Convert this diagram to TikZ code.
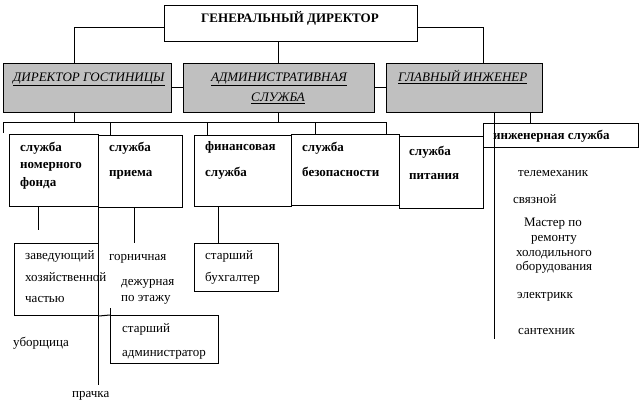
\documentclass[tikz,border=0pt]{standalone}
\usepackage{fontspec}
\setmainfont{Liberation Serif}
\definecolor{boxgray}{HTML}{C0C0C0}
\begin{document}
\begin{tikzpicture}[x=1pt,y=-1pt,
  box/.style={draw, line width=1pt, inner sep=0pt, anchor=north west, fill=white},
  gbox/.style={box, fill=boxgray},
  t/.style={inner sep=0pt, anchor=base west, font=\fontsize{13}{15}\selectfont},
  tc/.style={t, anchor=base},
  tb/.style={t, font=\fontsize{13}{15}\selectfont\bfseries},
  ti/.style={t, font=\fontsize{13}{15}\selectfont\itshape},
  ln/.style={line width=1pt}]
\useasboundingbox[fill=white] (0,0) rectangle (642,414);

% boxes
\node[box, minimum width=253pt, minimum height=36pt] (gd) at (164,5) {};
\node[gbox, minimum width=168pt, minimum height=49pt] (dg) at (3,63) {};
\node[gbox, minimum width=191pt, minimum height=49pt] (adm) at (183,63) {};
\node[gbox, minimum width=156pt, minimum height=49pt] (gi) at (386,63) {};
\node[box, minimum width=89pt, minimum height=72pt] (nf) at (9,134) {};
\node[box, minimum width=84pt, minimum height=72pt] (pr) at (98,135) {};
\node[box, minimum width=97pt, minimum height=71pt] (fin) at (194,135) {};
\node[box, minimum width=108pt, minimum height=71pt] (bez) at (291,134) {};
\node[box, minimum width=84pt, minimum height=72pt] (pit) at (399,136) {};
\node[box, minimum width=155pt, minimum height=24pt] (ing) at (483,123) {};
\node[box, minimum width=84pt, minimum height=72pt] (zav) at (14,243) {};
\node[box, minimum width=84pt, minimum height=48pt] (buh) at (194,243) {};
\node[box, minimum width=108pt, minimum height=48pt] (sadm) at (110,315) {};

% texts
\node[tb, anchor=base] (tgd) at (290,22.5) {ГЕНЕРАЛЬНЫЙ ДИРЕКТОР};
\node[ti] (tdg) at (13,81.5) {\underline{ДИРЕКТОР ГОСТИНИЦЫ}};
\node[ti, anchor=base] (tadm1) at (279,81.5) {\underline{АДМИНИСТРАТИВНАЯ}};
\node[ti, anchor=base] (tadm2) at (278,101.5) {\underline{СЛУЖБА}};
\node[ti] (tgi) at (398,81.5) {\underline{ГЛАВНЫЙ ИНЖЕНЕР}};

\node[tb] (tnf1) at (20,152) {служба};
\node[tb] (tnf2) at (20,169) {номерного};
\node[tb] (tnf3) at (20,186) {фонда};
\node[tb] (tpr1) at (109,152) {служба};
\node[tb] (tpr2) at (109,177) {приема};
\node[tb] (tfin1) at (205,151) {финансовая};
\node[tb] (tfin2) at (205,177) {служба};
\node[tb] (tbez1) at (302,152) {служба};
\node[tb] (tbez2) at (302,177) {безопасности};
\node[tb] (tpit1) at (409,156) {служба};
\node[tb] (tpit2) at (409,179) {питания};
\node[tb] (ting) at (493,140) {инженерная служба};

\node[t] (r1) at (518,177) {телемеханик};
\node[t] (r2) at (513,204) {связной};
\node[tc] (r3) at (553,226) {Мастер по};
\node[tc] (r4) at (554,241) {ремонту};
\node[tc] (r5) at (554,256) {холодильного};
\node[tc] (r6) at (554,270) {оборудования};
\node[t] (r7) at (517,298) {электрикк};
\node[t] (r8) at (518,334) {сантехник};

\node[t] (z1) at (25,259) {заведующий};
\node[t] (z2) at (25,281) {хозяйственной};
\node[t] (z3) at (25,302) {частью};
\node[t] (g1) at (109,260) {горничная};
\node[t] (d1) at (121,285) {дежурная};
\node[t] (d2) at (121,301) {по этажу};
\node[t] (s1) at (122,332) {старший};
\node[t] (s2) at (122,356) {администратор};
\node[t] (u1) at (13,346) {уборщица};
\node[t] (p1) at (72,397) {прачка};
\node[t] (b1) at (205,259) {старший};
\node[t] (b2) at (205,281) {бухгалтер};

% coordinates
\coordinate (x74) at (74,123);
\coordinate (x278) at (278,123);
\coordinate (x483) at (483,0);
\coordinate (busL) at (3,123);
\coordinate (busR) at (386,123);
\coordinate (dropL) at (3,133);
\coordinate (x110) at (110,123);
\coordinate (x207) at (207,123);
\coordinate (x315) at (315,123);
\coordinate (x494) at (494,339);
\coordinate (x530) at (530,0);
\coordinate (x38) at (38,230);
\coordinate (x134) at (134,243);
\coordinate (x218) at (218,0);
\coordinate (prEnd) at (98,385);
\coordinate (sadmUp) at (110,308);

% connectors
\draw[ln] ([yshift=-4pt]gd.west) -| (dg.north -| x74);
\draw[ln] ([yshift=-4pt]gd.east) -| (gi.north -| x483);
\draw[ln] (gd.south -| x278) -- (adm.north -| x278);
\draw[ln] (dg.east) -- (adm.west);
\draw[ln] (adm.east) -- (gi.west);
\draw[ln] (dg.south -| x74) -- (x74);
\draw[ln] (adm.south -| x278) -- (x278);
\draw[ln] (dropL) -- (busL) -- (busR) -- (bez.north -| busR);
\draw[ln] (x110) -- (pr.north -| x110);
\draw[ln] (x207) -- (fin.north -| x207);
\draw[ln] (x315) -- (bez.north -| x315);
\draw[ln] (gi.south -| x494) -- (x494);
\draw[ln] (gi.south -| x530) -- (ing.north -| x530);
\draw[ln] (nf.south -| x38) -- (x38);
\draw[ln] (pr.south -| x134) -- (x134);
\draw[ln] (fin.south -| x218) -- (buh.north -| x218);
\draw[ln] (pr.north west) -- (prEnd);
\draw[ln] (sadm.north west) -- (sadmUp);
\draw[ln] (zav.south east) -- (sadm.north west);
\end{tikzpicture}
\end{document}
